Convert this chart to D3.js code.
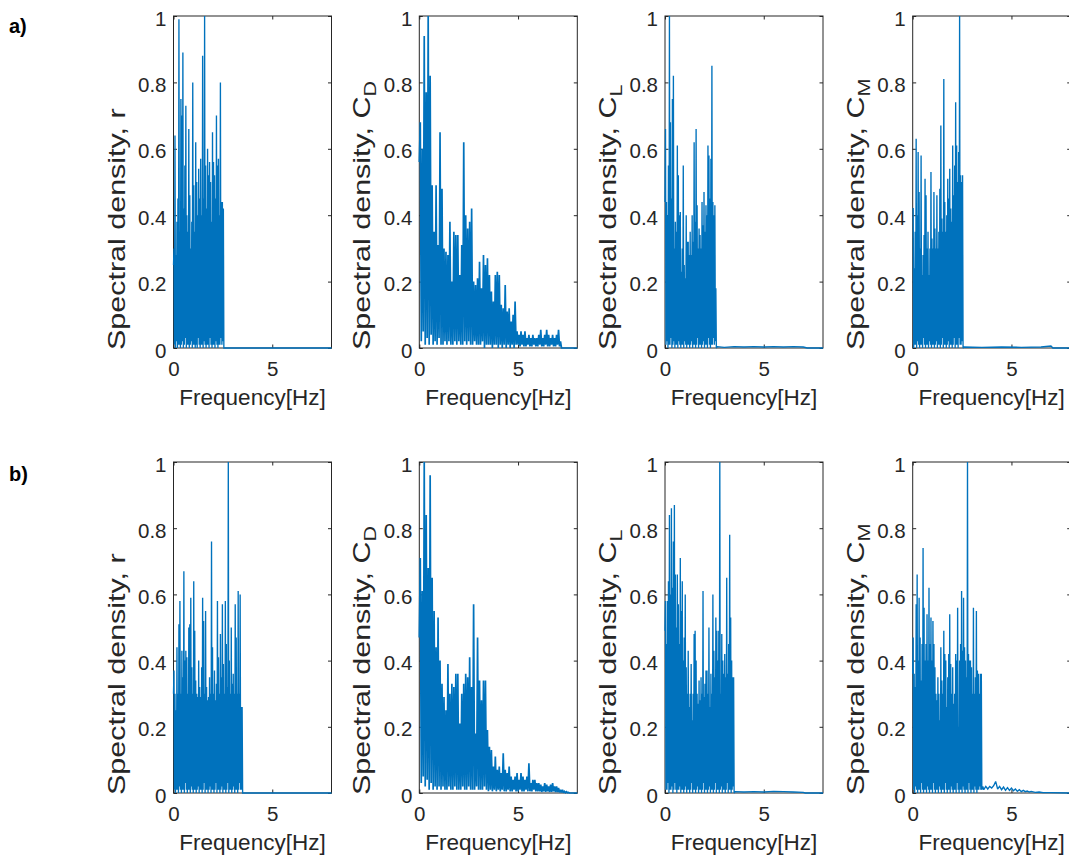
<!DOCTYPE html>
<html><head><meta charset="utf-8">
<script src="https://cdn.jsdelivr.net/npm/d3@7"></script>
<style>body{margin:0;background:#fff}svg{display:block}</style>
</head><body><svg id="c" width="1069" height="860"></svg>
<script>
// ---------- data (spectral density, normalised) ----------
// peaks sit at odd sample positions, lows at even ones; step = frequency step [Hz]
const a1Peaks = [0.30,0.64,0.28,0.38,0.45,0.99,0.35,0.75,0.70,0.89,
 0.42,0.55,0.73,0.40,0.35,0.66,0.46,0.30,0.38,0.80,
 0.49,0.35,0.62,0.50,0.40,0.54,0.45,0.57,0.40,0.88,
 0.45,1.00,0.55,0.42,0.60,0.52,0.56,0.50,0.38,0.65,
 0.56,0.52,0.45,0.70,0.55,0.57,0.40,0.80,0.44,0.44,
 0.42];
const a1Lows = [0.25,0.01,0,0.02,0,0.01,0.01,0,0.01,0.02,
 0,0.01,0.03,0,0.01,0.01,0,0.01,0.02,0,
 0.01,0.01,0,0.01,0,0.03,0.01,0,0.01,0.01,
 0,0.02,0.01,0,0.01,0.01,0,0.03,0.01,0,
 0.01,0.01,0,0.02,0.01,0,0.01,0.01,0.03,0.01,
 0.02,0];
const a1Tail = [[2.6,0],[8,0]];

const a2Peaks = [0.68,0.60,0.94,0.77,1.00,0.82,0.49,0.35,0.49,0.31,
 0.65,0.48,0.30,0.29,0.28,0.38,0.20,0.35,0.34,0.34,
 0.22,0.31,0.62,0.40,0.36,0.38,0.42,0.20,0.19,0.21,
 0.26,0.18,0.28,0.25,0.27,0.22,0.17,0.14,0.22,0.23,
 0.22,0.13,0.12,0.19,0.11,0.12,0.08,0.10,0.14,0.05,
 0.04,0.05,0.04,0.05,0.03,0.04,0.03,0.04,0.03,0.03,
 0.04,0.055,0.03,0.04,0.055,0.04,0.03,0.04,0.03,0.04,
 0.055,0.02];
const a2Lows = [0.56,0.02,0.05,0.01,0.03,0.01,0.04,0.01,0.02,0.01,
 0.03,0.01,0.01,0.02,0.01,0.02,0.01,0.01,0.02,0.01,
 0.02,0.01,0.01,0.02,0.01,0.02,0.01,0.01,0.02,0.01,
 0.01,0.01,0.02,0,0.01,0.01,0.01,0,0.01,0.01,
 0,0.01,0,0.01,0,0.01,0,0.01,0,0.01,
 0.01,0.005,0.01,0.005,0.005,0.01,0.005,0.005,0.01,0.005,
 0.005,0.01,0.005,0.005,0.01,0.005,0.005,0.01,0.005,0.005,
 0.01,0.005,0];
const a2Tail = [[7.25,0],[8,0]];

const a3Peaks = [0.66,0.44,0.40,0.55,1.00,0.68,0.45,0.75,0.82,0.30,
 0.38,0.35,0.61,0.52,0.40,0.41,0.23,0.30,0.55,0.25,
 0.21,0.40,0.32,0.32,0.28,0.35,0.28,0.40,0.32,0.62,
 0.38,0.66,0.43,0.30,0.36,0.34,0.30,0.44,0.37,0.47,
 0.35,0.43,0.40,0.61,0.58,0.45,0.57,0.85,0.44,0.40,
 0.43,0.18];
const a3Lows = [0.44,0.01,0.02,0,0.01,0.01,0.03,0,0.01,0.02,
 0,0.01,0.01,0,0.02,0.01,0,0.01,0.01,0,
 0.02,0.01,0,0.01,0.01,0,0.01,0.02,0,0.01,
 0.01,0,0.01,0.03,0,0.01,0.01,0,0.01,0.02,
 0,0.01,0.01,0,0.03,0.01,0,0.01,0.01,0.03,
 0.01,0.02,0];
const a3Tail = [[2.65,0.004],[3.0,0.002],[3.5,0.004],[4.0,0.003],[4.5,0.004],[5.0,0.003],[5.5,0.004],[6.0,0.003],[6.5,0.004],[7.0,0.003],[7.2,0],[8,0]];

const a4Peaks = [0.42,0.24,0.35,0.63,0.40,0.59,0.47,0.30,0.58,0.22,
 0.28,0.34,0.51,0.46,0.30,0.35,0.22,0.30,0.53,0.33,
 0.30,0.47,0.36,0.30,0.46,0.30,0.35,0.48,0.67,0.39,
 0.35,0.81,0.44,0.35,0.40,0.51,0.45,0.54,0.42,0.38,
 0.61,0.46,0.55,0.74,0.61,0.50,0.59,1.00,0.52,0.50,
 0.52];
const a4Lows = [0.42,0,0.01,0.01,0,0.02,0.01,0,0.01,0.01,
 0,0.03,0.01,0,0.01,0.01,0,0.02,0.01,0,
 0.01,0.01,0,0.01,0.02,0,0.01,0.01,0,0.01,
 0.03,0,0.01,0.01,0,0.01,0.02,0,0.01,0.01,
 0,0.01,0.03,0,0.01,0.01,0,0.03,0.01,0.01,
 0.02,0];
const a4Tail = [[2.6,0.003],[3.5,0.002],[4.5,0.003],[5.5,0.002],[6.5,0.003],[7.0,0.006],[7.1,0],[8,0]];

const b1Peaks = [0.37,0.30,0.25,0.44,0.30,0.51,0.58,0.30,0.43,0.35,
 0.67,0.40,0.43,0.41,0.30,0.50,0.51,0.59,0.38,0.30,
 0.64,0.49,0.34,0.30,0.29,0.40,0.32,0.29,0.38,0.59,
 0.52,0.30,0.55,0.32,0.28,0.29,0.35,0.30,0.76,0.44,
 0.30,0.37,0.28,0.33,0.58,0.41,0.30,0.48,0.35,0.57,
 0.39,0.30,0.58,0.45,0.32,1.00,0.40,0.30,0.50,0.33,
 0.36,0.30,0.57,0.47,0.30,0.61,0.30,0.60,0.26,0.26];
const b1Lows = [0.30,0.01,0,0.01,0.01,0,0.02,0.01,0,0.01,
 0.01,0,0.03,0.01,0,0.01,0.01,0,0.02,0.01,
 0,0.01,0.01,0,0.01,0.02,0,0.01,0.01,0,
 0.01,0.03,0,0.01,0.01,0,0.01,0.02,0,0.01,
 0.01,0,0.01,0.03,0,0.01,0.01,0,0.01,0.02,
 0,0.01,0.01,0,0.01,0.03,0,0.01,0.01,0,
 0.01,0.02,0,0.01,0.01,0,0.01,0.03,0.01,0.01,
 0];
const b1Tail = [[3.55,0],[8,0]];

const b2Peaks = [0.71,0.61,1.00,0.84,0.68,0.96,0.65,0.55,0.44,0.53,
 0.40,0.33,0.29,0.25,0.39,0.30,0.33,0.32,0.36,0.36,
 0.21,0.30,0.33,0.36,0.35,0.41,0.32,0.57,0.18,0.47,
 0.34,0.28,0.34,0.34,0.19,0.14,0.13,0.08,0.11,0.07,
 0.08,0.06,0.12,0.07,0.06,0.08,0.05,0.04,0.05,0.06,
 0.04,0.06,0.05,0.04,0.05,0.09,0.03,0.04,0.04,0.03,
 0.03,0.025,0.02,0.03,0.025,0.02,0.025,0.03,0.02,0.02,
 0.015,0.01,0.01,0.005,0.004,0.002];
const b2Lows = [0.47,0.03,0.05,0.02,0.04,0.01,0.03,0.01,0.02,0.01,
 0.02,0.01,0.02,0.01,0.01,0.02,0.01,0.01,0.02,0.01,
 0.01,0.01,0.02,0.01,0.01,0.02,0.01,0.01,0.01,0.02,
 0.01,0.01,0.01,0.02,0.01,0.005,0.01,0.005,0.01,0.005,
 0.01,0.005,0.01,0.005,0.005,0.01,0.005,0.005,0.01,0.005,
 0.005,0.01,0.005,0.005,0.01,0.005,0.005,0.005,0.01,0.005,
 0.005,0.005,0.003,0.005,0.003,0.005,0.003,0.003,0.005,0.003,
 0.003,0.002,0.002,0.001,0.001,0.001,0];
const b2Tail = [[8,0]];

const b3Peaks = [0.58,0.45,0.58,0.64,0.84,0.60,0.86,0.62,0.76,0.87,
 0.66,0.50,0.66,0.57,0.45,0.71,0.55,0.64,0.40,0.47,
 0.60,0.38,0.30,0.43,0.26,0.30,0.39,0.22,0.30,0.48,
 0.49,0.40,0.30,0.27,0.34,0.28,0.35,0.30,0.61,0.29,
 0.33,0.37,0.37,0.30,0.50,0.26,0.36,0.30,0.60,0.43,
 0.35,0.53,0.49,0.40,0.49,1.00,0.30,0.48,0.40,0.36,
 0.42,0.35,0.65,0.36,0.45,0.78,0.53,0.40,0.35,0.35];
const b3Lows = [0.49,0.01,0.01,0.03,0,0.01,0.01,0.02,0,0.01,
 0.03,0.01,0,0.01,0.01,0.02,0,0.01,0.01,0,
 0.01,0.02,0,0.01,0.01,0,0.01,0.03,0,0.01,
 0.01,0,0.01,0.02,0,0.01,0.01,0,0.01,0.03,
 0,0.01,0.01,0,0.01,0.02,0,0.01,0.01,0,
 0.01,0.03,0,0.01,0.01,0,0.01,0.02,0,0.01,
 0.01,0,0.01,0.03,0,0.01,0.01,0,0.01,0.02,
 0];
const b3Tail = [[3.55,0.004],[4.0,0.003],[4.5,0.004],[5.0,0.003],[5.5,0.005],[6.0,0.004],[6.5,0.003],[7.0,0.002],[7.1,0],[8,0]];

const b4Peaks = [0.47,0.36,0.32,0.57,0.66,0.40,0.59,0.47,0.34,0.45,
 0.74,0.56,0.40,0.45,0.54,0.40,0.62,0.45,0.53,0.40,
 0.52,0.45,0.38,0.30,0.28,0.35,0.30,0.22,0.44,0.34,
 0.30,0.49,0.42,0.40,0.26,0.35,0.42,0.54,0.39,0.30,
 0.38,0.27,0.30,0.42,0.40,0.56,0.20,0.40,0.45,0.61,
 0.43,0.59,0.44,0.40,0.35,1.00,0.42,0.40,0.40,0.38,
 0.30,0.56,0.30,0.35,0.55,0.37,0.36,0.30,0.36,0.36];
const b4Lows = [0.36,0.01,0,0.02,0.01,0,0.01,0.01,0,0.03,
 0.01,0,0.01,0.01,0,0.02,0.01,0,0.01,0.01,
 0,0.03,0.01,0,0.01,0.01,0,0.02,0.01,0,
 0.01,0.01,0,0.03,0.01,0,0.01,0.01,0,0.02,
 0.01,0,0.01,0.01,0,0.03,0.01,0,0.01,0.01,
 0,0.02,0.01,0,0.01,0.01,0,0.03,0.01,0,
 0.01,0.01,0,0.02,0.01,0,0.01,0.01,0.02,0.01,
 0.01];
const b4Tail = [[3.55,0.02],[3.6,0.01],[3.7,0.02],[3.8,0.012],[3.9,0.02],[4.0,0.015],[4.1,0.022],[4.2,0.035],[4.3,0.012],[4.4,0.02],[4.5,0.01],[4.6,0.018],[4.7,0.008],[4.8,0.016],[4.9,0.008],[5.0,0.015],[5.1,0.007],[5.2,0.012],[5.3,0.005],[5.4,0.01],[5.5,0.004],[5.6,0.008],[5.7,0.004],[5.8,0.006],[5.9,0.003],[6.0,0.005],[6.2,0.002],[6.4,0.003],[6.6,0.001],[7.0,0.001],[8,0]];

const xTicks = [0, 5];
const xTickLabels = ["0", "5"];
const yTicks = [0, 0.2, 0.4, 0.6, 0.8, 1];
const yTickLabels = ["0", "0.2", "0.4", "0.6", "0.8", "1"];
const xDomain = [0, 8];
const yDomain = [0, 1];
const rowLabels = ["a)", "b)"];
const quantityMain = ["r", "C", "C", "C"];
const quantitySub = ["", "D", "L", "M"];
const xLabel = "Frequency[Hz]";
const yLabelPrefix = "Spectral density, ";

const panels = [
  {row:0, col:0, step:0.025, peaks:a1Peaks, lows:a1Lows, tail:a1Tail},
  {row:0, col:1, step:0.05,  peaks:a2Peaks, lows:a2Lows, tail:a2Tail},
  {row:0, col:2, step:0.025, peaks:a3Peaks, lows:a3Lows, tail:a3Tail},
  {row:0, col:3, step:0.025, peaks:a4Peaks, lows:a4Lows, tail:a4Tail},
  {row:1, col:0, step:0.025, peaks:b1Peaks, lows:b1Lows, tail:b1Tail},
  {row:1, col:1, step:0.05,  peaks:b2Peaks, lows:b2Lows, tail:b2Tail},
  {row:1, col:2, step:0.025, peaks:b3Peaks, lows:b3Lows, tail:b3Tail},
  {row:1, col:3, step:0.025, peaks:b4Peaks, lows:b4Lows, tail:b4Tail}
];

// ---------- layout ----------
const colX = [173.5, 419.3, 665, 912.7];
const colStroke = [1.35, 1.7, 1.35, 1.35];
const plotW = 158;
const rowTop = [16, 462];
const rowBottom = [348, 793];
const FONT = "'Liberation Sans', Arial, Helvetica, sans-serif";
const INK = "#262626";
const BLUE = "#0072BD";

const svg = d3.select("#c");

rowLabels.forEach((t, r) => {
  svg.append("text").attr("x", 9).attr("y", r === 0 ? 33 : 481)
    .attr("font-family", FONT).attr("font-weight", "bold").attr("font-size", 20)
    .attr("fill", "#000").text(t);
});

function series(p) {
  const pts = [];
  for (let i = 0; i < p.lows.length; i++) {
    pts.push([2 * i * p.step, p.lows[i]]);
    if (i < p.peaks.length) pts.push([(2 * i + 1) * p.step, p.peaks[i]]);
  }
  p.tail.forEach(d => pts.push(d));
  return pts;
}

panels.forEach(p => {
  const x0 = colX[p.col], top = rowTop[p.row], bot = rowBottom[p.row];
  const x = d3.scaleLinear().domain(xDomain).range([x0, x0 + plotW]);
  const y = d3.scaleLinear().domain(yDomain).range([bot, top]);
  const g = svg.append("g");

  g.append("rect").attr("x", x0).attr("y", top).attr("width", plotW).attr("height", bot - top)
    .attr("fill", "none").attr("stroke", INK).attr("stroke-width", 1);

  const left = g.append("g").attr("transform", `translate(${x0},0)`)
    .call(d3.axisLeft(y).tickValues(yTicks).tickFormat((d, i) => yTickLabels[i])
      .tickSize(-3.5).tickSizeOuter(0).tickPadding(7));
  const right = g.append("g").attr("transform", `translate(${x0 + plotW},0)`)
    .call(d3.axisRight(y).tickValues(yTicks).tickFormat("").tickSize(-3.5).tickSizeOuter(0));
  const bottom = g.append("g").attr("transform", `translate(0,${bot})`)
    .call(d3.axisBottom(x).tickValues(xTicks).tickFormat((d, i) => xTickLabels[i])
      .tickSize(-3.5).tickSizeOuter(0).tickPadding(13));
  const topAx = g.append("g").attr("transform", `translate(0,${top})`)
    .call(d3.axisTop(x).tickValues(xTicks).tickFormat("").tickSize(-3.5).tickSizeOuter(0));
  [left, right, bottom, topAx].forEach(a => {
    a.select(".domain").remove();
    a.selectAll("line").attr("stroke", INK);
    a.selectAll("text").attr("font-family", FONT).attr("font-size", 20.5).attr("fill", INK);
  });
  left.selectAll("text").attr("dy", "0.44em");

  g.append("text").attr("x", x0 + plotW / 2).attr("y", bot + 57)
    .attr("text-anchor", "middle").attr("font-family", FONT).attr("font-size", 22.5)
    .attr("fill", INK).text(xLabel);

  const yl = g.append("text")
    .attr("transform", `translate(${x0 - 49},${bot + 2}) rotate(-90) scale(1.27,1)`)
    .attr("text-anchor", "start").attr("font-family", FONT).attr("font-size", 24)
    .attr("fill", INK);
  yl.append("tspan").text(yLabelPrefix + quantityMain[p.col]);
  if (quantitySub[p.col]) {
    yl.append("tspan").attr("font-size", 17).attr("dy", 6).text(quantitySub[p.col]);
  }

  const line = d3.line().x(d => x(d[0])).y(d => y(d[1]));
  g.append("path").datum(series(p)).attr("d", line)
    .attr("fill", "none").attr("stroke", BLUE).attr("stroke-width", colStroke[p.col])
    .attr("stroke-linejoin", "miter").attr("stroke-miterlimit", 2);
});
</script>
</body></html>
